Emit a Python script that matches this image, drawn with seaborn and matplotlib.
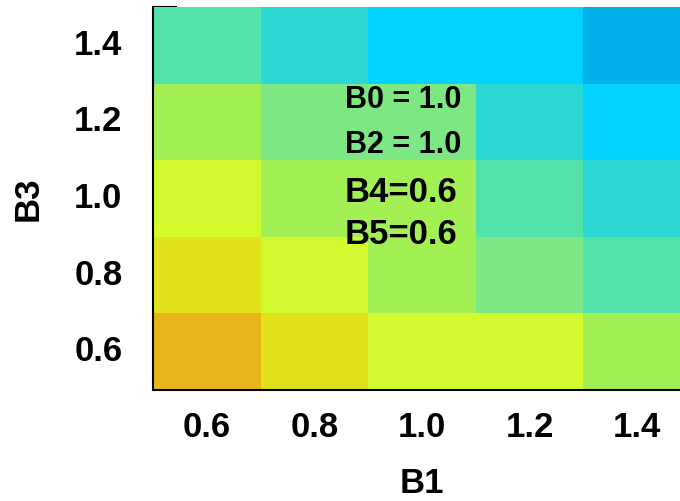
import matplotlib
matplotlib.use("Agg")
import matplotlib.pyplot as plt
from matplotlib.colors import ListedColormap
import seaborn as sns
import pandas as pd
import numpy as np

# Data
b1_labels = ["0.6", "0.8", "1.0", "1.2", "1.4"]
b3_labels = ["1.4", "1.2", "1.0", "0.8", "0.6"]  # top to bottom
row_b3_14 = [5, 6, 7, 7, 8]
row_b3_12 = [3, 4, 4, 6, 7]
row_b3_10 = [2, 3, 3, 5, 6]
row_b3_08 = [1, 2, 3, 4, 5]
row_b3_06 = [0, 1, 2, 2, 3]
level_colors = ["#E8B51A", "#E0E31C", "#D2FA2E", "#A3F055", "#7DE883",
                "#53E2A9", "#2CD8D3", "#02D2FF", "#02B0EA"]
annot_lines = ["B0 = 1.0", "B2 = 1.0", "B4=0.6", "B5=0.6"]

df = pd.DataFrame([row_b3_14, row_b3_12, row_b3_10, row_b3_08, row_b3_06],
                  index=b3_labels, columns=b1_labels)

sns.set_theme(style="white")
plt.rcParams['font.family'] = ['Liberation Sans', 'DejaVu Sans']
plt.rcParams['text.color'] = 'black'
plt.rcParams['axes.labelcolor'] = 'black'
plt.rcParams['xtick.color'] = 'black'
plt.rcParams['ytick.color'] = 'black'

fig = plt.figure(figsize=(6.8, 5.01), dpi=100)
W, H = 680, 501
ax = fig.add_axes([153 / W, 1 - 390 / H, (691 - 153) / W, (390 - 7) / H])

cmap = ListedColormap(level_colors)
sns.heatmap(df, ax=ax, cmap=cmap, vmin=-0.5, vmax=8.5, cbar=False,
            linewidths=0, square=False)

ax.set_xticks(np.arange(5) + 0.5)
ax.set_xticklabels(b1_labels, fontsize=25, fontweight="bold", rotation=0)
ax.set_yticks(np.arange(5) + 0.5)
ax.set_yticklabels(b3_labels, fontsize=25, fontweight="bold", rotation=0)
ax.tick_params(axis="both", which="major", length=0, labelcolor="black")
ax.tick_params(axis="x", which="major", pad=15)
ax.tick_params(axis="y", which="major", pad=22)

ax.set_xticks([1, 2, 3, 4], minor=True)
ax.set_yticks([0, 1, 2, 3, 4], minor=True)
ax.tick_params(axis="both", which="minor", direction="in", length=17,
               width=1.5, color="black", bottom=True, left=True)

for side in ["left", "bottom"]:
    ax.spines[side].set_visible(True)
    ax.spines[side].set_color("black")
    ax.spines[side].set_linewidth(1.5)
for side in ["top", "right"]:
    ax.spines[side].set_visible(False)

ax.set_xlabel("B1", fontsize=25, fontweight="bold", labelpad=17, color="black")
ax.set_ylabel("B3", fontsize=25, fontweight="bold", labelpad=21, color="black")

# Annotations (figure pixel coordinates)
ypos = [100, 145, 193, 235]
sizes = [22, 22, 25, 25]
for txt, yp, fs in zip(annot_lines, ypos, sizes):
    fig.text(345 / W, 1 - yp / H, txt, fontsize=fs, fontweight="bold",
             ha="left", va="center", color="black")

fig.savefig("out.png", dpi=100)
